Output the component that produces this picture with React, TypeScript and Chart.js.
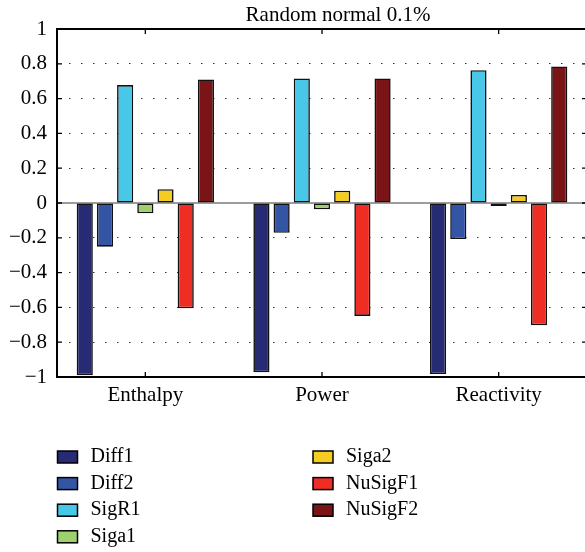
import React, { useEffect, useRef } from 'react';
import { Chart, registerables } from 'chart.js';

Chart.register(...registerables);

const TITLE = 'Random normal 0.1%';
const categories = ['Enthalpy', 'Power', 'Reactivity'];
const seriesNames = ['Diff1', 'Diff2', 'SigR1', 'Siga1', 'Siga2', 'NuSigF1', 'NuSigF2'];
const diff1 = [-0.99, -0.973, -0.983];
const diff2 = [-0.251, -0.171, -0.207];
const sigR1 = [0.678, 0.716, 0.763];
const siga1 = [-0.059, -0.036, -0.017];
const siga2 = [0.079, 0.071, 0.046];
const nuSigF1 = [-0.605, -0.649, -0.703];
const nuSigF2 = [0.71, 0.716, 0.785];
const seriesValues = [diff1, diff2, sigR1, siga1, siga2, nuSigF1, nuSigF2];
const seriesColors = ['#272b74', '#3454a4', '#48c8e6', '#9fd06f', '#f5cc22', '#ee2e24', '#7a1416'];
const Y_MIN = -1;
const Y_MAX = 1;
const Y_STEP = 0.2;

const FONT = '"Liberation Serif", "Times New Roman", serif';

const fmt = (v: number) => {
  const r = Math.round(v * 10) / 10;
  if (Math.abs(r) < 1e-9) return '0';
  return r < 0 ? '\u2212' + String(Math.abs(r)) : String(r);
};

const framePlugin = {
  id: 'matlabFrame',
  beforeDatasetsDraw(chart: any) {
    const { ctx, chartArea: a, scales } = chart;
    const y0 = scales.y.getPixelForValue(0);
    ctx.save();
    ctx.strokeStyle = '#3a3a3a';
    ctx.lineWidth = 1;
    ctx.beginPath();
    ctx.moveTo(a.left, y0);
    ctx.lineTo(a.right, y0);
    ctx.stroke();
    ctx.restore();
  },
  afterDatasetsDraw(chart: any) {
    const { ctx, chartArea: a, scales } = chart;
    ctx.save();
    ctx.strokeStyle = '#000';
    ctx.lineWidth = 2;
    ctx.strokeRect(a.left, a.top, a.right - a.left, a.bottom - a.top);
    ctx.lineWidth = 1.3;
    const T = 5;
    ctx.beginPath();
    scales.y.ticks.forEach((_t: any, i: number) => {
      const py = scales.y.getPixelForTick(i);
      ctx.moveTo(a.left, py);
      ctx.lineTo(a.left + T, py);
      ctx.moveTo(a.right, py);
      ctx.lineTo(a.right - T, py);
    });
    scales.x.ticks.forEach((_t: any, i: number) => {
      const px = scales.x.getPixelForTick(i);
      ctx.moveTo(px, a.bottom);
      ctx.lineTo(px, a.bottom - T);
      ctx.moveTo(px, a.top);
      ctx.lineTo(px, a.top + T);
    });
    ctx.stroke();
    ctx.restore();
  },
  afterDraw(chart: any) {
    const { ctx } = chart;
    ctx.save();
    // title
    ctx.fillStyle = '#000';
    ctx.font = `21px ${FONT}`;
    ctx.textAlign = 'center';
    ctx.textBaseline = 'alphabetic';
    ctx.fillText(TITLE, 338, 21);
    // legend (column-major, 4 rows)
    ctx.font = `20px ${FONT}`;
    ctx.textAlign = 'left';
    ctx.textBaseline = 'middle';
    const colX = [57.5, 313];
    chart.data.datasets.forEach((ds: any, i: number) => {
      const col = i < 4 ? 0 : 1;
      const row = i < 4 ? i : i - 4;
      const x = colX[col];
      const yc = 457 + row * 26.6;
      ctx.fillStyle = ds.backgroundColor;
      ctx.fillRect(x, yc - 6, 20, 12);
      ctx.strokeStyle = '#000';
      ctx.lineWidth = 1.5;
      ctx.strokeRect(x, yc - 6, 20, 12);
      ctx.fillStyle = '#000';
      ctx.fillText(ds.label, x + 33, yc);
    });
    ctx.restore();
  },
};

export default function App() {
  const ref = useRef<HTMLCanvasElement>(null);
  useEffect(() => {
    if (!ref.current) return;
    const chart = new Chart(ref.current, {
      type: 'bar',
      data: {
        labels: categories,
        datasets: seriesNames.map((name, i) => ({
          label: name,
          data: seriesValues[i],
          backgroundColor: seriesColors[i],
          borderColor: '#111',
          borderWidth: 1.6,
          borderSkipped: false,
          categoryPercentage: 0.8,
          barPercentage: 0.8,
        })),
      },
      options: {
        responsive: false,
        animation: false,
        devicePixelRatio: 1,
        layout: { padding: { top: 29, right: 5, left: 0, bottom: 0 } },
        plugins: {
          legend: { display: false },
          title: { display: false },
          tooltip: { enabled: false },
        },
        scales: {
          x: {
            grid: { display: false, drawTicks: false },
            border: { display: false },
            ticks: { color: '#000', font: { family: FONT, size: 21 }, padding: 6, maxRotation: 0 },
            afterFit: (s: any) => {
              s.height = 175;
            },
          },
          y: {
            min: Y_MIN,
            max: Y_MAX,
            grid: {
              drawTicks: false,
              color: (c: any) => {
                const v = c.tick ? c.tick.value : 0;
                if (Math.abs(v) < 1e-9 || Math.abs(Math.abs(v) - 1) < 1e-9) return 'rgba(0,0,0,0)';
                return '#333';
              },
              lineWidth: 1,
            },
            border: { display: false, dash: [1.5, 10.5] },
            ticks: {
              stepSize: Y_STEP,
              color: '#000',
              font: { family: FONT, size: 21 },
              padding: 10,
              callback: (v: any) => fmt(Number(v)),
            },
            afterFit: (s: any) => {
              s.width = 57;
            },
          },
        },
      },
      plugins: [framePlugin],
    });
    return () => chart.destroy();
  }, []);
  return (
    <div
      style={{
        position: 'fixed',
        left: 0,
        top: 0,
        width: 585,
        height: 552,
        overflow: 'hidden',
        background: '#fff',
      }}
    >
      <canvas ref={ref} width={592} height={552} style={{ display: 'block' }} />
    </div>
  );
}
